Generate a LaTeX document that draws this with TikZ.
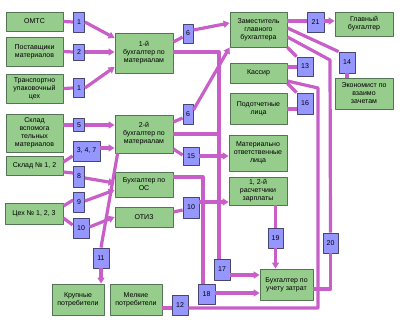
\documentclass[tikz,border=0pt]{standalone}
\usepackage{fontspec}
\setmainfont{Liberation Sans}
\usetikzlibrary{arrows.meta}
\definecolor{boxgreen}{RGB}{150,204,140}
\definecolor{boxedge}{RGB}{85,115,85}
\definecolor{lblblue}{RGB}{150,150,255}
\definecolor{lbledge}{RGB}{70,70,110}
\definecolor{wire}{RGB}{200,95,200}
\begin{document}
\begin{tikzpicture}[x=1pt,y=-1pt, font=\fontsize{7}{8}\selectfont, line join=round,
	gbox/.style={draw=boxedge, fill=boxgreen, line width=0.8pt, align=center, inner sep=1pt, minimum width=57pt},
	lbl/.style={draw=lbledge, fill=lblblue, line width=0.8pt, inner sep=1pt, minimum width=11pt, minimum height=20pt},
	wire/.style={draw=wire, line width=3.2pt},
	arr/.style={wire, -{Triangle[length=6pt,width=7pt]}}]
	\useasboundingbox (0,0) rectangle (403,326);
	% green boxes
	\node[gbox, minimum height=19pt] (omts) at (34.5,21.5) {ОМТС};
	\node[gbox, minimum height=29pt] (post) at (34.5,51.5) {Поставщики\\материалов};
	\node[gbox, minimum height=29pt] (trans) at (34.5,88.5) {Транспортно\\упаковочный\\цех};
	\node[gbox, minimum height=38pt] (sklv) at (34.5,133) {Склад\\вспомога\\тельных\\материалов};
	\node[gbox, minimum height=19pt] (skl) at (34.5,165.5) {Склад № 1, 2};
	\node[gbox, minimum height=21pt, minimum width=58pt] (ceh) at (34,213.5) {Цех № 1, 2, 3};
	\node[gbox, minimum height=40pt, minimum width=58pt] (buhA) at (144,53) {1-й\\бухгалтер по\\материалам};
	\node[gbox, minimum height=38pt, minimum width=58pt] (buhB) at (144,134) {2-й\\бухгалтер по\\материалам};
	\node[gbox, minimum height=25pt, minimum width=58pt] (buhos) at (144,184.5) {Бухгалтер по\\ОС};
	\node[gbox, minimum height=20pt, minimum width=58pt] (otiz) at (144,217) {ОТИЗ};
	\node[gbox, minimum height=31pt, minimum width=52pt] (krup) at (78,299.5) {Крупные\\потребители};
	\node[gbox, minimum height=31pt, minimum width=52pt] (melk) at (136,299.5) {Мелкие\\потребители};
	\node[gbox, minimum height=35pt] (zam) at (258.5,29.5) {Заместитель\\главного\\бухгалтера};
	\node[gbox, minimum height=24pt, minimum width=58pt] (glav) at (364,24) {Главный\\бухгалтер};
	\node[gbox, minimum height=20pt] (kass) at (258.5,73) {Кассир};
	\node[gbox, minimum height=31pt] (podot) at (258.5,108.5) {Подотчетные\\лица};
	\node[gbox, minimum height=31pt, minimum width=58pt] (econ) at (364,93.5) {Экономист по\\взаимо\\зачетам};
	\node[gbox, minimum height=36pt, minimum width=58pt] (mat) at (258,153) {Материально\\ответственные\\лица};
	\node[gbox, minimum height=28pt, minimum width=58pt] (rasch) at (258,191) {1, 2-й\\расчетчики\\зарплаты};
	\node[gbox, minimum height=31pt, minimum width=53pt] (zatr) at (286.5,284.5) {Бухгалтер по\\учету затрат};
	% blue labels
	\node[lbl] (nA) at (79,22) {1};
	\node[lbl, minimum height=16pt] (nB) at (79,52) {2};
	\node[lbl, minimum height=19pt] (nC) at (79,88) {1};
	\node[lbl, minimum height=13pt] (nE) at (79,125) {5};
	\node[lbl, minimum width=27pt] (nF) at (86.5,151) {3, 4, 7};
	\node[lbl, minimum height=21pt] (nH) at (79,176.5) {8};
	\node[lbl] (nI) at (79,202) {9};
	\node[lbl, minimum width=16pt] (nJ) at (81,228) {10};
	\node[lbl, minimum width=16pt] (nK) at (101,258) {11};
	\node[lbl, minimum width=10pt, minimum height=19pt] (nL) at (188,33.5) {6};
	\node[lbl, minimum width=10pt] (nM) at (188,114) {6};
	\node[lbl, minimum width=16pt, minimum height=18pt] (nO) at (191,156) {15};
	\node[lbl, minimum width=16pt, minimum height=21pt] (nP) at (191,207.5) {10};
	\node[lbl, minimum width=16pt, minimum height=21pt] (nQ) at (222,269.5) {17};
	\node[lbl, minimum width=17pt] (nR) at (206.5,294) {18};
	\node[lbl, minimum width=16pt] (nS) at (180,305) {12};
	\node[lbl, minimum width=15pt] (nT) at (275.5,238) {19};
	\node[lbl, minimum width=15pt] (nU) at (330.5,243) {20};
	\node[lbl, minimum width=17pt] (nV) at (315.5,22) {21};
	\node[lbl, minimum width=16pt, minimum height=19pt] (nW) at (305,66.5) {13};
	\node[lbl, minimum width=16pt, minimum height=21pt] (nX) at (347,62.5) {14};
	\node[lbl, minimum width=16pt, minimum height=21pt] (nY) at (305,103.5) {16};
	% bend points
	\coordinate (bus) at (219,52);
	\coordinate (osR) at (203,177);
	\coordinate (zR) at (330,60);
	\coordinate (kR) at (318,88);
	% connectors
	\draw[wire] (omts.east) -- (nA.west);
	\draw[arr] (nA.east) -- (buhA.west |- 0,38);
	\draw[wire] (post.east) -- (nB.west);
	\draw[arr] (nB.east) -- (buhA.west |- 0,52);
	\draw[wire] (trans.east) -- (nC.west);
	\draw[arr] (nC.east) -- (buhA.west |- 0,67);
	\draw[wire] (buhA.east |- 0,42) -- (nL.west |- 0,37);
	\draw[arr] (nL.east |- 0,30) -- (zam.west |- 0,23);
	\draw[wire] (buhA.east |- 0,52) -- (bus) -- (bus |- nQ.north);
	\draw[wire] (buhB.east |- 0,134) -- (bus |- 0,134);
	\draw[wire] (buhB.east |- 0,122) -- (nM.west |- 0,118);
	\draw[arr] (nM.east |- 0,110) -- (zam.south west);
	\draw[wire] (buhB.east |- 0,149) -- (nO.west |- 0,155);
	\draw[arr] (nO.east) -- (mat.west |- nO.east);
	\draw[wire] (sklv.east |- 0,125) -- (nE.west);
	\draw[arr] (nE.east) -- (buhB.west |- 0,125);
	\draw[wire] (skl.east |- 0,162) -- (nF.west |- 0,156);
	\draw[arr] (nF.east |- 0,148) -- (buhB.west |- 0,148);
	\draw[wire] (skl.east |- 0,172) -- (nH.west |- 0,173);
	\draw[arr] (nH.east |- 0,178) -- (buhos.west |- 0,183);
	\draw[wire] (ceh.east |- 0,206) -- (nI.west |- 0,200);
	\draw[arr] (nI.east |- 0,201) -- (buhos.west |- 0,190);
	\draw[wire] (ceh.east |- 0,218) -- (nJ.west |- 0,225);
	\draw[arr] (nJ.east |- 0,227) -- (otiz.west |- 0,217);
	\draw[wire] (buhB.south west) ++(3,0) -- (nK.north);
	\draw[arr] (nK.south) -- (nK.south |- krup.north);
	\draw[wire] (otiz.east |- 0,212) -- (nP.west |- 0,210);
	\draw[arr] (nP.east |- 0,202) -- (rasch.west |- 0,202);
	\draw[wire] (buhos.east |- osR) -- (osR) -- (osR |- nR.north);
	\draw[arr] (nQ.east |- 0,275) -- (zatr.west |- 0,275);
	\draw[arr] (nR.east |- 0,293) -- (zatr.west |- 0,293);
	\draw[wire] (rasch.south -| nT.north) -- (nT.north);
	\draw[arr] (nT.south) -- (zatr.north -| nT.south);
	\draw[wire] (zam.east |- 0,37) -- (zR) -- (nU.north);
	\draw[wire] (nU.south) -- (nU.south |- 0,289) -- (zatr.east |- 0,289);
	\draw[wire] (kass.east |- 0,81) -- (kR) -- (kR |- 0,308) -- (nS.east |- 0,308);
	\draw[wire] (nS.west |- 0,308) -- (melk.east |- 0,308);
	\draw[wire] (zam.east |- 0,28) -- (nX.north west);
	\draw[wire] (nX.south) -- (econ.north -| nX.south);
	\draw[wire] (zam.east |- 0,21) -- (nV.west |- 0,21);
	\draw[arr] (nV.east |- 0,21) -- (glav.west |- 0,21);
	\draw[wire] (zam.south east) -- (nW.north west);
	\draw[wire] (nW.west |- 0,67) -- (kass.east |- 0,67);
	\draw[wire] (kass.south east) -- (nY.north west);
	\draw[wire] (nY.west |- 0,109) -- (podot.east |- 0,109);
\end{tikzpicture}
\end{document}
